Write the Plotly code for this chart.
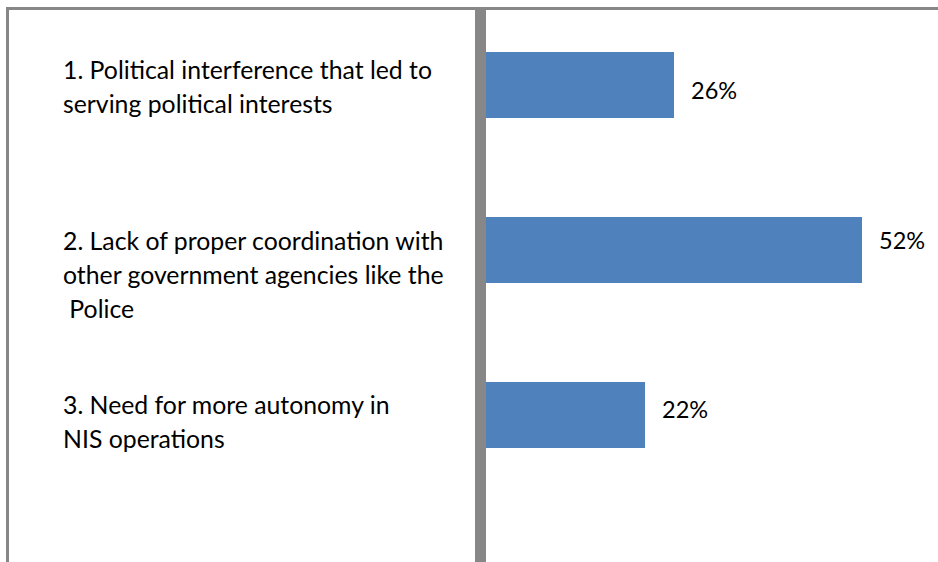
import plotly.graph_objects as go

# ---- data ----
categories = [
    ["1. Political interference that led to", "serving political interests"],
    ["2. Lack of proper coordination with", "other government agencies like the", " Police"],
    ["3. Need for more autonomy in", "NIS operations"],
]
values = [26, 52, 22]
value_labels = ["26%", "52%", "22%"]

# ---- layout constants (pixels) ----
W, H = 938, 562
PLOT_LEFT = 486
X_PX_PER_UNIT = (862 - 486) / 52.0
BAR_C0 = 84.5
BAND = 165.0
FONT = "Lato, Calibri, Carlito, sans-serif"
TXT_SIZE = 24.8
LBL_SIZE = 23.5
LINE_GAP = 34
first_line_offset = [15.5, 9.5, 10.0]
label_offset = [-5.5, 9.5, 6.0]
BAR_COLOR = "#4F81BD"
GRAY = "#878787"

ypos = list(range(len(values)))

fig = go.Figure()
fig.add_trace(go.Bar(
    x=values, y=ypos, orientation="h",
    marker=dict(color=BAR_COLOR, line=dict(width=0)),
    width=0.4, hoverinfo="skip",
))

x_max = (W - PLOT_LEFT) / X_PX_PER_UNIT
y_top = -BAR_C0 / BAND
y_bot = (H - BAR_C0) / BAND

annotations = []
for i, lines in enumerate(categories):
    for j, ln in enumerate(lines):
        annotations.append(dict(
            text=ln, xref="paper", x=61 / W, xanchor="left",
            yref="y", y=ypos[i], yanchor="middle",
            yshift=first_line_offset[i] - j * LINE_GAP,
            showarrow=False, align="left",
            font=dict(family=FONT, size=TXT_SIZE, color="#000000"),
        ))
for i, v in enumerate(values):
    annotations.append(dict(
        text=value_labels[i], xref="x", x=v, xanchor="left", xshift=15,
        yref="y", y=ypos[i], yanchor="middle", yshift=label_offset[i],
        showarrow=False,
        font=dict(family=FONT, size=LBL_SIZE, color="#000000"),
    ))

shapes = [
    # frame top
    dict(type="line", xref="paper", yref="paper", x0=7.5 / W, x1=1.02,
         y0=1 - 8.5 / H, y1=1 - 8.5 / H, line=dict(color=GRAY, width=3)),
    # frame left
    dict(type="line", xref="paper", yref="paper", x0=7.5 / W, x1=7.5 / W,
         y0=-0.02, y1=1 - 7 / H, line=dict(color=GRAY, width=3)),
    # divider (axis)
    dict(type="rect", xref="paper", yref="paper", x0=475 / W, x1=486 / W,
         y0=-0.02, y1=1 - 7 / H, fillcolor=GRAY, line=dict(width=0)),
]

fig.update_layout(
    width=W, height=H,
    margin=dict(l=0, r=0, t=0, b=0),
    paper_bgcolor="white", plot_bgcolor="white",
    showlegend=False,
    xaxis=dict(domain=[PLOT_LEFT / W, 1], range=[0, x_max], visible=False, fixedrange=True),
    yaxis=dict(domain=[0, 1], range=[y_bot, y_top], visible=False, fixedrange=True),
    annotations=annotations,
    shapes=shapes,
    bargap=0,
)

fig.write_html("out.html", include_plotlyjs=True, config={"displayModeBar": False})
